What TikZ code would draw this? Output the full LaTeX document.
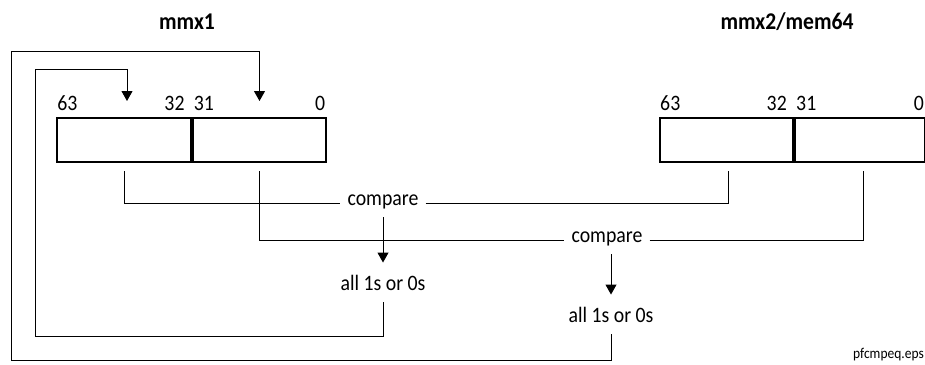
\documentclass[tikz,border=0pt]{standalone}
\usepackage{fontspec}
\setmainfont{Carlito}[FakeStretch=0.9]
\usetikzlibrary{arrows.meta}

\begin{document}
\begin{tikzpicture}[x=1pt, y=-1pt, every node/.style={font=\fontsize{22}{26}\selectfont}, >={Triangle[length=10pt, width=11pt]}, title/.style={font=\fontsize{24}{28}\selectfont\bfseries, anchor=base, inner sep=0pt}, reg/.style={draw, line width=2pt, minimum height=44pt, inner sep=0pt}, bit/.style={inner sep=0pt}, cmp/.style={inner xsep=7pt, inner ysep=8pt, anchor=mid}, res/.style={inner xsep=4pt, inner ysep=12pt, anchor=base}, wire/.style={line width=1pt}]
	\useasboundingbox (0,0) rectangle (925,364);
	\node[title] (ta) at (187,29) {mmx1};
	\node[title] (tb) at (787,29) {mmx2/mem64};
	% the two registers
	\node[reg, minimum width=133.5pt] (ahi) at (124,140) {};
	\node[reg, minimum width=133.5pt, anchor=west] (alo) at (ahi.east) {};
	\node[reg, minimum width=133pt] (bhi) at (726.5,140) {};
	\node[reg, minimum width=130pt, anchor=west] (blo) at (bhi.east) {};
	\foreach \r in {a,b} {
		\node[bit, anchor=base west] (\r63) at ([xshift=1pt, yshift=7pt]\r hi.north west) {63};
		\node[bit, anchor=base east] (\r32) at ([xshift=-7pt, yshift=7pt]\r hi.north east) {32};
		\node[bit, anchor=base west] (\r31) at ([xshift=2pt, yshift=7pt]\r lo.north west) {31};
		\node[bit, anchor=base east] (\r0) at ([xshift=-2pt, yshift=7pt]\r lo.north east) {0};
	}
	\coordinate (inhi) at ([xshift=3pt, yshift=16pt]ahi.north);
	\coordinate (inlo) at ([yshift=16pt]alo.north);
	% compares and results
	\node[cmp] (cmp1) at (383,203) {compare};
	\node[cmp] (cmp2) at (607,240) {compare};
	\node[res] (res1) at (383,290) {all 1s or 0s};
	\node[res] (res2) at (611,322) {all 1s or 0s};
	\draw[wire] ([yshift=-8pt]ahi.south) |- (cmp1.mid west);
	\draw[wire] (cmp1.mid east) -| ([xshift=1.5pt, yshift=-8pt]bhi.south);
	\draw[wire] ([yshift=-8pt]alo.south) |- (cmp2.mid west);
	\draw[wire] (cmp2.mid east) -| ([xshift=3pt, yshift=-8pt]blo.south);
	\draw[wire, ->] (cmp1.south) -- (res1.north);
	\draw[wire, ->] (cmp2.south -| res2.north) -- (res2.north);
	% results written back
	\draw[wire, ->] (res1.south) -- ++(0,34) -| ++(-348,-267) -| (inhi);
	\draw[wire, ->] (res2.south) -- ++(0,26) -| ++(-600,-309) -| (inlo);
	\node[font=\fontsize{15}{18}\selectfont, anchor=base west, inner sep=0pt] (fname) at (853,358) {pfcmpeq.eps};
\end{tikzpicture}
\end{document}
